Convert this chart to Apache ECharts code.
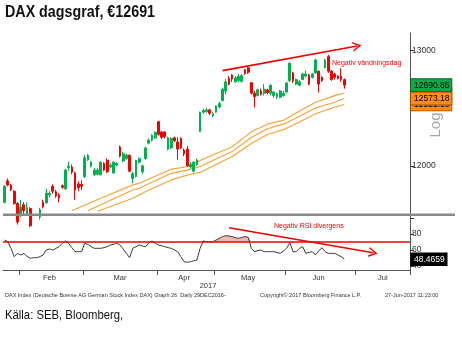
<!DOCTYPE html>
<html><head><meta charset="utf-8">
<script src="https://cdn.jsdelivr.net/npm/echarts@6/dist/echarts.min.js"></script>
<style>html,body{margin:0;padding:0;background:#fff}#c{width:462px;height:338px}</style>
</head><body><div id="c"></div><script>
// Trading days (category axis)
const daysJan = [25,26,27,30,31];
const daysFeb = [1,2,3,6,7,8,9,10,13,14,15,16,17,20,21,22,23,24,27,28];
const daysMar = [1,2,3,6,7,8,9,10,13,14,15,16,17,20,21,22,23,24,27,28,29,30,31];
const daysApr = [3,4,5,6,7,10,11,12,13,18,19,20,21,24,25,26,27,28];
const daysMay = [2,3,4,5,8,9,10,11,12,15,16,17,18,19,22,23,24,25,26,29,30,31];
const daysJun = [1,2,5,6,7,8,9,12,13,14,15,16,19,20,21,22,23,26,27,28,29,30];
const daysJul = [3,4,5,6,7,10,11,12,13,14,17,18,19,20,21,24,25];
const monthNames = ['Jan','Feb','Mar','Apr','May','Jun','Jul'];

// Daily OHLC (DAX)
const opens = [11700,11875,11840,11790,11690,11600,11680,11610,11650,11520,11560,11580,11700,11695,11760,11830,11785,11760,11835,11810,11985,11990,11940,11850,11845,
11910,12050,11995,11925,11930,11925,12019,12047,11992,11940,12005,12158,12040,12060,12088,11895,11910,12030,11950,12060,12190,12215,12235,
12373,12285,12285,12140,12150,12235,12200,12230,12130,12140,11990,11955,12010,12290,12455,12460,12475,12425,
12455,12500,12555,12640,12750,12780,12720,12730,12725,12828,12845,12713,12620,12600,12640,12620,12650,12620,12600,12590,12585,12600,
12630,12730,12800,12700,12690,12740,12770,12780,12760,12800,12815,12760,12845,12945,12815,12790,12770,12770,12740];
const closes = [11830,11840,11805,11690,11540,11660,11630,11655,11510,11550,11540,11640,11665,11775,11772,11790,11750,11735,11822,11965,11998,11947,11800,11820,11830,
12067,12088,12030,11965,11965,12030,11965,11950,12005,12030,12019,12080,12100,12090,11955,11935,12045,12060,12000,12150,12215,12258,12283,
12265,12240,12245,12235,12230,12210,12140,12150,12100,12000,12010,12030,12048,12455,12470,12475,12445,12440,
12508,12530,12655,12720,12700,12745,12755,12770,12775,12795,12805,12620,12590,12650,12610,12655,12625,12690,12630,12615,12640,12620,
12710,12885,12730,12740,12720,12790,12790,12700,12790,12915,12700,12730,12915,12815,12740,12760,12750,12740,12690.85];
const lows = [11690,11830,11790,11680,11520,11580,11590,11590,11500,11480,11500,11560,11650,11690,11740,11770,11735,11700,11810,11800,11960,11930,11720,11790,11800,
11900,12040,11985,11915,11920,11920,11955,11940,11980,11935,11995,12070,12030,12050,11945,11855,11905,12020,11930,12050,12180,12205,12225,
12255,12225,12230,12130,12140,12200,12050,12140,12080,11990,11975,11945,12000,12285,12440,12450,12430,12410,
12450,12490,12550,12610,12690,12720,12710,12715,12715,12780,12790,12610,12496,12590,12600,12600,12610,12600,12580,12570,12575,12590,
12620,12720,12710,12690,12680,12735,12760,12690,12750,12790,12626,12720,12840,12800,12730,12740,12740,12720,12660];
const highs = [11840,11895,11850,11800,11700,11720,11700,11700,11660,11590,11590,11655,11720,11810,11790,11845,11800,11775,11845,11975,12035,12010,11950,11870,11880,
12090,12100,12040,11980,11980,12040,12030,12060,12020,12040,12030,12170,12115,12100,12095,11950,12050,12070,12010,12160,12230,12265,12290,
12380,12295,12290,12245,12240,12245,12240,12240,12145,12165,12030,12040,12060,12460,12485,12490,12485,12455,
12515,12545,12670,12745,12770,12790,12770,12790,12790,12835,12852,12720,12640,12660,12660,12700,12660,12700,12640,12625,12650,12640,
12720,12895,12810,12750,12735,12800,12820,12790,12800,12925,12820,12770,12925,12961,12825,12800,12780,12840,12750];

// Moving-average bands (index on the day axis, value)
const upperIdx = [21,30,40,42,52,57,61,71,77,82,87,92,97,103,106];
const upperVal = [11632,11733,11842,11855,11972,11992,12044,12160,12286,12352,12385,12465,12541,12599,12622.40];
const midIdx = [26,30,40,42,52,57,61,71,77,82,87,92,97,103,106];
const midVal = [11632,11680,11800,11814,11937,11964,11994,12119,12238,12313,12352,12419,12492,12541,12573.18];
const lowIdx = [29,40,45,52,58,61,71,77,82,87,92,97,103,106];
const lowVal = [11627,11733,11800,11883,11929,11945,12077,12187,12263,12305,12371,12441,12498,12521.15];

// RSI
const rsi = [72.5,70.4,62,51.7,55.8,53.8,55.8,52,49.6,50.4,50.4,51.7,53.8,60,61.3,60,62,64.2,68.3,71.3,68.3,62.9,57.9,57.9,57.9,
68.3,67,64.2,62.1,62.1,62.1,62.9,64.2,66.3,67.1,68.3,66.3,61.3,55.8,50.4,62.1,64.2,66.3,65,64.2,69,71.3,68.3,
66.3,65.4,64.2,62.9,62.1,60,57.9,51.7,45.4,44.6,45.4,46.5,47.5,62,71.3,70.4,70.4,70.4,
72.5,74.6,76.7,77.9,77.5,76.7,75.4,74.6,75.8,76.7,75.8,62.1,57.9,59.2,60,57.9,57.9,57.9,57.9,56.7,55.8,58.75,
62.1,69.2,57.9,57.9,62.1,64.2,55.8,57.1,57.9,53.8,58.75,62.9,57.9,55.8,55.8,55.8,53.8,51.7,48.4659];
const rsiLevel = 70;

const priceTicks = [12000, 13000];
const rsiTicks = [40, 60, 80, 100];
const rsiLabels = [40, 60, 80];

// ---- build ----
const monthDays = [daysJan,daysFeb,daysMar,daysApr,daysMay,daysJun,daysJul];
const categories = [];
const monthOf = [];
monthDays.forEach((ds, m) => ds.forEach(d => {
  categories.push('2017-' + String(m + 1).padStart(2, '0') + '-' + String(d).padStart(2, '0'));
  monthOf.push(m);
}));
const labelIdx = {};
let start = 0;
monthDays.forEach((ds, m) => { if (m > 0) labelIdx[start + Math.floor((ds.length - 1) / 2)] = monthNames[m]; start += ds.length; });
const ohlc = opens.map((o, i) => [o, closes[i], lows[i], highs[i]]);
const pairs = (ix, v) => ix.map((x, i) => [x, v[i]]);
const rsiBase = rsi.map(() => rsiLevel);
const rsiOver = rsi.map(v => Math.max(0, v - rsiLevel));

const F = '"Liberation Sans", Arial, sans-serif';
const chevron = 'path://M0,10 L5,0 L10,10 L8.4,10 L5,3.2 L1.6,10 Z';
const hidden = { color: 'rgba(0,0,0,0)', width: 0, opacity: 1 };
function tag(text, bg, border, fg) {
  return { show: true, position: 'end', distance: 1, formatter: text, color: fg, fontSize: 8.5, fontFamily: F, opacity: 1,
    backgroundColor: bg, borderColor: border, borderWidth: 0.8, padding: [1, 2, 1, 3], lineHeight: 10 };
}
const bandColor = '#f6a236';
function band(name, ix, v, z) {
  const last = v[v.length - 1];
  return { name, type: 'line', xAxisIndex: 0, yAxisIndex: 0, data: pairs(ix, v), symbol: 'none', z,
    lineStyle: { color: bandColor, width: 1.1 }, silent: true,
    markLine: { silent: true, symbol: 'none', z, animation: false,
      data: [{ yAxis: last, lineStyle: hidden, label: tag(last.toFixed(2), '#ff8c1a', '#a04a00', '#000') }] } };
}

const option = {
  animation: false,
  grid: [
    { left: 3, right: 52, top: 33, height: 180, outerBoundsMode: 'none', containLabel: false },
    { left: 3, right: 52, top: 216, height: 54, outerBoundsMode: 'none', containLabel: false }
  ],
  xAxis: [
    { type: 'category', gridIndex: 0, data: categories, boundaryGap: true,
      axisLine: { show: false }, axisTick: { show: false }, axisLabel: { show: false }, splitLine: { show: false } },
    { type: 'category', gridIndex: 1, data: categories, boundaryGap: true,
      axisLine: { show: true, lineStyle: { color: '#555', width: 1 } },
      axisTick: { show: true, length: 5, lineStyle: { color: '#555' },
        interval: (i) => i > 0 && monthOf[i] !== monthOf[i - 1] },
      axisLabel: { show: true, interval: (i) => labelIdx[i] !== undefined, formatter: (v, i) => labelIdx[i] || '',
        fontSize: 7.5, fontFamily: F, color: '#333', margin: 4 },
      splitLine: { show: false } }
  ],
  yAxis: [
    { type: 'log', logBase: 10, gridIndex: 0, position: 'right', min: 11613, max: 13159,
      axisLine: { show: true, lineStyle: { color: '#555', width: 1 } },
      axisTick: { show: true, inside: false, length: 4, customValues: priceTicks, lineStyle: { color: '#333' } },
      axisLabel: { show: true, customValues: priceTicks, formatter: (v) => String(Math.round(v)), fontSize: 8.5, fontFamily: F, color: '#333', margin: 2 },
      splitLine: { show: false } },
    { type: 'value', gridIndex: 1, position: 'right', min: 35, max: 102.5,
      axisLine: { show: true, lineStyle: { color: '#555', width: 1 } },
      axisTick: { show: true, inside: false, length: 4, customValues: rsiTicks, lineStyle: { color: '#333' } },
      axisLabel: { show: true, customValues: rsiLabels, fontSize: 8.5, fontFamily: F, color: '#333', margin: 2 },
      splitLine: { show: false } }
  ],
  series: [
    band('Upper band', upperIdx, upperVal, 3),
    band('Lower band', lowIdx, lowVal, 4),
    band('Middle band', midIdx, midVal, 5),
    { name: 'DAX', type: 'candlestick', xAxisIndex: 0, yAxisIndex: 0, data: ohlc, barWidth: 2.2, clip: true, z: 6,
      itemStyle: { color: '#00b14f', color0: '#f20000', borderColor: '#00b14f', borderColor0: '#f20000', borderWidth: 1 },
      markLine: { silent: true, symbol: 'none', z: 7, animation: false,
        data: [
          { yAxis: closes[closes.length - 1], lineStyle: hidden, label: tag(closes[closes.length - 1].toFixed(2), '#0aaa4a', '#045a24', '#000') },
          [ { coord: [68, 12820], symbol: 'none', lineStyle: { color: '#f00000', width: 1.6, type: 'solid' }, label: { show: false } },
            { coord: [110, 13040], symbol: chevron, symbolSize: [10, 9], lineStyle: { color: '#f00000', width: 1.6, type: 'solid' }, label: { show: false } } ]
        ] } },
    { name: 'base', type: 'line', xAxisIndex: 1, yAxisIndex: 1, data: rsiBase, stack: 'ob', symbol: 'none',
      lineStyle: { opacity: 0 }, silent: true },
    { name: 'over', type: 'line', xAxisIndex: 1, yAxisIndex: 1, data: rsiOver, stack: 'ob', symbol: 'none',
      lineStyle: { opacity: 0 }, areaStyle: { color: '#f5b5b0', opacity: 1 }, silent: true },
    { name: 'RSI', type: 'line', xAxisIndex: 1, yAxisIndex: 1, data: rsi, symbol: 'none', z: 4,
      lineStyle: { color: '#3a3a3a', width: 1 },
      markLine: { silent: true, symbol: 'none', z: 5, animation: false,
        data: [
          { yAxis: rsiLevel, lineStyle: { color: '#f00000', width: 1.5, type: 'solid' }, label: { show: false } },
          { yAxis: rsi[rsi.length - 1], lineStyle: hidden, label: tag(rsi[rsi.length - 1].toFixed(4), '#000', '#000', '#fff') },
          [ { coord: [70, 87.9], symbol: 'none', lineStyle: { color: '#f00000', width: 1.6, type: 'solid' }, label: { show: false } },
            { coord: [115, 56.6], symbol: chevron, symbolSize: [10, 9], lineStyle: { color: '#f00000', width: 1.6, type: 'solid' }, label: { show: false } } ]
        ] } }
  ],
  graphic: [
    { type: 'rect', shape: { x: 3, y: 213.5, width: 452, height: 2.6 }, style: { fill: '#8a8a8a' }, z: 10 },
    { type: 'text', x: 5, y: 4, scaleX: 0.84, style: { text: 'DAX dagsgraf, €12691', font: 'bold 17px ' + F, fill: '#111', textAlign: 'left', textVerticalAlign: 'top' } },
    { type: 'text', x: 332, y: 63, style: { text: 'Negativ vändningsdag', font: '7px ' + F, fill: '#f00000', textAlign: 'left', textVerticalAlign: 'middle' } },
    { type: 'text', x: 274, y: 226, style: { text: 'Negativ RSI divergens', font: '7px ' + F, fill: '#f00000', textAlign: 'left', textVerticalAlign: 'middle' } },
    { type: 'text', x: 436, y: 125, rotation: Math.PI / 2, style: { text: 'Log', font: '15px ' + F, fill: '#a8a8a8', textAlign: 'center', textVerticalAlign: 'middle' } },
    { type: 'text', x: 208, y: 286, style: { text: '2017', font: '7.5px ' + F, fill: '#333', textAlign: 'center', textVerticalAlign: 'middle' } },
    { type: 'text', x: 5, y: 295, style: { text: 'DAX Index (Deutsche Boerse AG German Stock Index DAX) Graph 26  Daily 29DEC2016-', font: '5.5px ' + F, fill: '#333', textAlign: 'left', textVerticalAlign: 'middle' } },
    { type: 'text', x: 260, y: 295, style: { text: 'Copyright© 2017 Bloomberg Finance L.P.', font: '5.5px ' + F, fill: '#333', textAlign: 'left', textVerticalAlign: 'middle' } },
    { type: 'text', x: 385, y: 295, style: { text: '27-Jun-2017 11:23:00', font: '5.5px ' + F, fill: '#333', textAlign: 'left', textVerticalAlign: 'middle' } },
    { type: 'text', x: 5, y: 309, scaleX: 0.87, style: { text: 'Källa: SEB, Bloomberg,', font: '13px ' + F, fill: '#111', textAlign: 'left', textVerticalAlign: 'top' } }
  ]
};
const chart = echarts.init(document.getElementById('c'), null, { renderer: 'canvas', width: 462, height: 338 });
chart.setOption(option);
</script></body></html>
